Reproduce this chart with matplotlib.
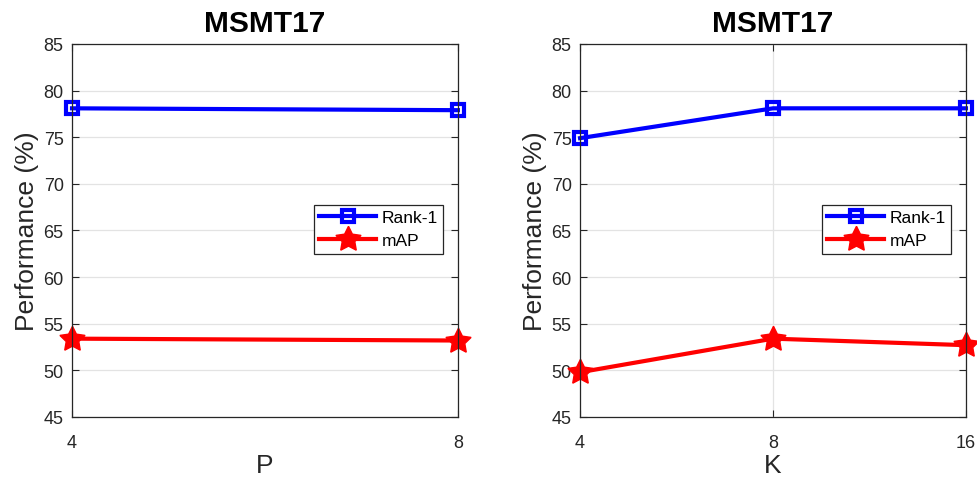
import numpy as np
import matplotlib.pyplot as plt

plt.rcParams['font.family'] = ['Liberation Sans', 'DejaVu Sans']

# left panel: varying P
p_vals = [4, 8]
p_rank1 = [78.1, 77.9]
p_map = [53.4, 53.2]

# right panel: varying K
k_labels = ['4', '8', '16']
k_rank1 = [74.9, 78.1, 78.1]
k_map = [49.8, 53.4, 52.7]

title = 'MSMT17'
yticks = [45, 50, 55, 60, 65, 70, 75, 80, 85]

dark = '#262626'


def style_axes(ax, xlabel):
  ax.set_ylim(45, 85)
  ax.set_yticks(yticks)
  ax.grid(True, color='#e3e3e3', linewidth=0.9)
  ax.set_axisbelow(True)
  ax.tick_params(direction='in', length=5, width=0.8, colors=dark,
                 labelsize=13, top=True, right=True, pad=6)
  ax.tick_params(axis='x', pad=12)
  for s in ax.spines.values():
    s.set_color(dark)
    s.set_linewidth(0.9)
  ax.set_title(title, fontsize=21.5, fontweight='bold', pad=9)
  ax.set_xlabel(xlabel, fontsize=19, color=dark, labelpad=2)
  ax.set_ylabel('Performance (%)', fontsize=19, color=dark, labelpad=3)
  ax.legend(loc='upper right', bbox_to_anchor=(0.961, 0.568), borderaxespad=0,
            fontsize=12.5, handlelength=3.3, handletextpad=0.3,
            labelspacing=0.45, borderpad=0.3, fancybox=False,
            edgecolor=dark, framealpha=1).get_frame().set_linewidth(0.9)


def draw(ax, x, r1, mp):
  ax.plot(x, r1, color='#0000ff', linewidth=3, marker='s', markersize=9,
          markerfacecolor='none', markeredgewidth=3, label='Rank-1', clip_on=False)
  ax.plot(x, mp, color='#ff0000', linewidth=3, marker=(5, 1, 0), markersize=19,
          label='mAP', clip_on=False)


fig = plt.figure(figsize=(9.77, 4.81), dpi=100)
ax1 = fig.add_axes([0.0737, 0.131, 0.395, 0.7755])
ax2 = fig.add_axes([0.5937, 0.131, 0.395, 0.7755])

draw(ax1, p_vals, p_rank1, p_map)
ax1.set_xlim(p_vals[0], p_vals[-1])
ax1.set_xticks(p_vals)
style_axes(ax1, 'P')

kx = np.arange(len(k_labels))
draw(ax2, kx, k_rank1, k_map)
ax2.set_xlim(kx[0], kx[-1])
ax2.set_xticks(kx)
ax2.set_xticklabels(k_labels)
style_axes(ax2, 'K')

fig.savefig('out.png', dpi=100)
